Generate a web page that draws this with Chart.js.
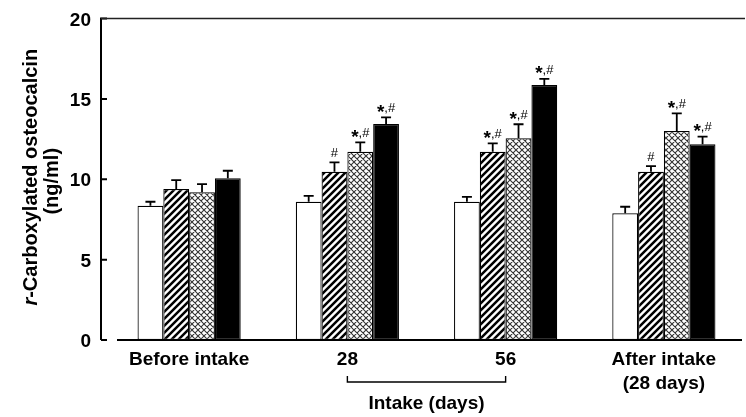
<!DOCTYPE html>
<html><head><meta charset="utf-8">
<script src="https://cdn.jsdelivr.net/npm/chart.js@4.4.1/dist/chart.umd.min.js"></script>
<style>html,body{margin:0;padding:0;background:#fff}#wrap{width:746px;height:417px}</style>
</head><body><div id="wrap"><canvas id="c" width="746" height="417"></canvas></div>
<script>
// ---- data ----
const categories = ['Before intake', '28', '56', ['After intake', '(28 days)']];
const seriesNames = ['Control', 'Group 1', 'Group 2', 'Group 3'];
const whiteVals   = [8.35, 8.60, 8.60, 7.88];
const hatchedVals = [9.39, 10.47, 11.71, 10.47];
const crossVals   = [9.19, 11.71, 12.55, 13.00];
const blackVals   = [10.06, 13.44, 15.86, 12.17];
const whiteErr    = [0.25, 0.36, 0.30, 0.41];
const hatchedErr  = [0.56, 0.58, 0.52, 0.35];
const crossErr    = [0.51, 0.59, 0.87, 1.10];
const blackErr    = [0.47, 0.41, 0.38, 0.48];
const whiteMarks   = ['', '', '', ''];
const hatchedMarks = ['', '#', '*,#', '#'];
const crossMarks   = ['', '*,#', '*,#', '*,#'];
const blackMarks   = ['', '*,#', '*,#', '*,#'];
const yTicks = [0, 5, 10, 15, 20];
const yTitleItalic = 'r';
const yTitleRest = '-Carboxylated osteocalcin';
const yTitleUnit = '(ng/ml)';
const bracketLabel = 'Intake (days)';

const errs = [whiteErr, hatchedErr, crossErr, blackErr];
const marks = [whiteMarks, hatchedMarks, crossMarks, blackMarks];
const FONT = 'Liberation Sans, Arial, sans-serif';

function hatchPattern() {
  const s = 7, c = document.createElement('canvas'); c.width = c.height = s;
  const g = c.getContext('2d');
  g.fillStyle = '#fff'; g.fillRect(0, 0, s, s);
  g.strokeStyle = '#000'; g.lineWidth = 2.5; g.beginPath();
  for (let k = -1; k <= 1; k++) { g.moveTo(k * s - 1, s + 1); g.lineTo(k * s + s + 1, -1); }
  g.stroke();
  return g.createPattern(c, 'repeat');
}
function crossPattern() {
  const s = 6, c = document.createElement('canvas'); c.width = c.height = s;
  const g = c.getContext('2d');
  g.fillStyle = '#fff'; g.fillRect(0, 0, s, s);
  g.strokeStyle = '#333'; g.lineWidth = 1.1; g.beginPath();
  for (let k = -1; k <= 1; k++) {
    g.moveTo(k * s - 1, s + 1); g.lineTo(k * s + s + 1, -1);
    g.moveTo(k * s - 1, -1); g.lineTo(k * s + s + 1, s + 1);
  }
  g.stroke();
  return g.createPattern(c, 'repeat');
}

const frame = {
  id: 'frame',
  afterDatasetsDraw(chart) {
    const { ctx, chartArea: a, scales: { x, y } } = chart;
    const ax = a.left - 9, top = y.getPixelForValue(20), bot = y.getPixelForValue(0);
    ctx.save();
    ctx.strokeStyle = '#000';
    // error bars
    ctx.lineWidth = 1.8; ctx.beginPath();
    chart.data.datasets.forEach((ds, i) => {
      chart.getDatasetMeta(i).data.forEach((bar, j) => {
        const v = ds.data[j], py = y.getPixelForValue(v), cy = y.getPixelForValue(v + errs[i][j]);
        ctx.moveTo(bar.x, py); ctx.lineTo(bar.x, cy);
        ctx.moveTo(bar.x - 5, cy); ctx.lineTo(bar.x + 5, cy);
      });
    });
    ctx.stroke();
    // axes frame
    ctx.lineWidth = 2; ctx.beginPath();
    ctx.moveTo(ax, top - 1); ctx.lineTo(ax, bot);
    yTicks.forEach(v => { const py = y.getPixelForValue(v); ctx.moveTo(ax, py); ctx.lineTo(ax + 6, py); });
    ctx.moveTo(a.left + 7, bot); ctx.lineTo(a.right - 1, bot);
    ctx.stroke();
    ctx.lineWidth = 1.6; ctx.strokeStyle = '#222'; ctx.beginPath();
    ctx.moveTo(ax, top); ctx.lineTo(a.right + 2, top); ctx.stroke();
    // significance marks
    ctx.fillStyle = '#000'; ctx.textBaseline = 'middle';
    chart.data.datasets.forEach((ds, i) => {
      chart.getDatasetMeta(i).data.forEach((bar, j) => {
        const m = marks[i][j]; if (!m) return;
        const cy = y.getPixelForValue(ds.data[j] + errs[i][j]) - 9;
        if (m === '#') {
          ctx.font = '13px ' + FONT; ctx.textAlign = 'center';
          ctx.fillText('#', bar.x, cy);
        } else {
          ctx.font = 'bold 19px ' + FONT; const ws = ctx.measureText('*').width;
          ctx.font = '13px ' + FONT; const wr = ctx.measureText(',#').width;
          const x0 = bar.x - (ws + wr) / 2;
          ctx.textAlign = 'left';
          ctx.font = 'bold 19px ' + FONT; ctx.fillText('*', x0, cy + 4);
          ctx.font = '13px ' + FONT; ctx.fillText(',#', x0 + ws, cy);
        }
      });
    });
    // bracket
    const x1 = x.getPixelForValue(1), x2 = x.getPixelForValue(2);
    ctx.lineWidth = 1.4; ctx.strokeStyle = '#000'; ctx.beginPath();
    ctx.moveTo(x1, 376); ctx.lineTo(x1, 382); ctx.lineTo(x2, 382); ctx.lineTo(x2, 376);
    ctx.stroke();
    ctx.font = 'bold 19px ' + FONT; ctx.textAlign = 'center';
    ctx.fillText(bracketLabel, (x1 + x2) / 2, 404);
    // y title
    ctx.save();
    ctx.translate(31.5, (top + bot) / 2 - 2); ctx.rotate(-Math.PI / 2);
    ctx.font = 'italic bold 20px ' + FONT; const w1 = ctx.measureText(yTitleItalic).width;
    ctx.font = 'bold 20px ' + FONT; const w2 = ctx.measureText(yTitleRest).width;
    const s = -(w1 + w2) / 2;
    ctx.textAlign = 'left';
    ctx.font = 'italic bold 20px ' + FONT; ctx.fillText(yTitleItalic, s, 0);
    ctx.font = 'bold 20px ' + FONT; ctx.fillText(yTitleRest, s + w1, 0);
    ctx.restore();
    ctx.save();
    ctx.translate(52.5, (top + bot) / 2 + 2); ctx.rotate(-Math.PI / 2);
    ctx.font = 'bold 20px ' + FONT; ctx.textAlign = 'center';
    ctx.fillText(yTitleUnit, 0, 0);
    ctx.restore();
    ctx.restore();
  }
};

const fills = ['#fff', hatchPattern(), crossPattern(), '#000'];
const vals = [whiteVals, hatchedVals, crossVals, blackVals];

new Chart(document.getElementById('c'), {
  type: 'bar',
  data: {
    labels: categories,
    datasets: vals.map((d, i) => ({
      label: seriesNames[i], data: d,
      backgroundColor: fills[i], borderColor: '#000', borderWidth: 1.2,
      borderSkipped: false, categoryPercentage: 0.652, barPercentage: 1.0
    }))
  },
  options: {
    responsive: false, animation: false, devicePixelRatio: 1,
    layout: { padding: { top: 18.5, right: 3, left: 0, bottom: 0 } },
    plugins: { legend: { display: false }, tooltip: { enabled: false } },
    scales: {
      x: {
        grid: { display: false, drawTicks: false }, border: { display: false },
        ticks: { font: { family: FONT, size: 19, weight: 'bold', lineHeight: 1.3 }, color: '#000', padding: 7, maxRotation: 0, autoSkip: false },
        afterFit: s => { s.height = 77; }
      },
      y: {
        min: 0, max: 20,
        grid: { display: false, drawTicks: true, tickLength: 16 }, border: { display: false },
        afterBuildTicks: s => { s.ticks = yTicks.map(v => ({ value: v })); },
        ticks: { font: { family: FONT, size: 19, weight: 'bold' }, color: '#000', padding: 3, labelOffset: 2 },
        afterFit: s => { s.width = 110; }
      }
    }
  },
  plugins: [frame]
});
</script></body></html>
